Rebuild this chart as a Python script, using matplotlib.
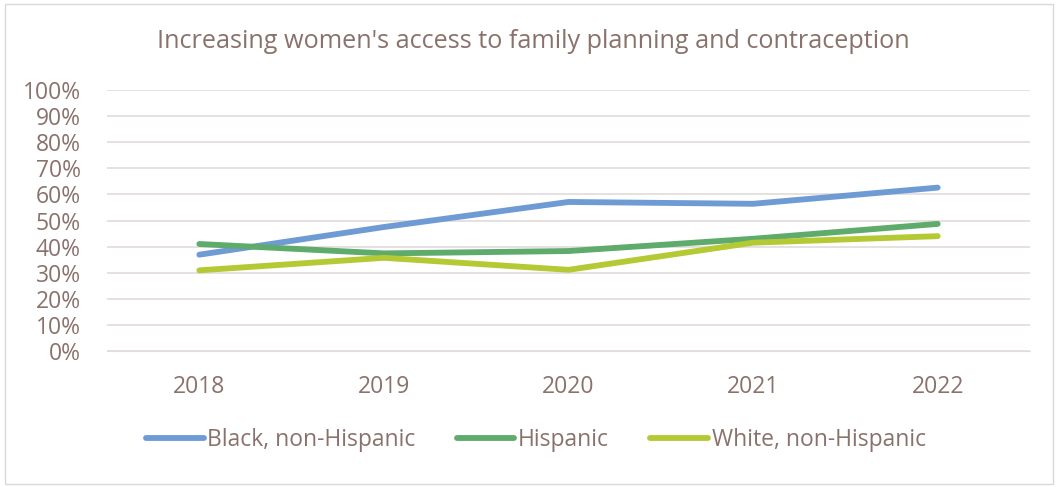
import matplotlib
matplotlib.use("Agg")
import matplotlib.pyplot as plt
from matplotlib.ticker import PercentFormatter
from matplotlib.patches import Rectangle

plt.rcParams['font.family'] = ['Open Sans', 'DejaVu Sans']

# survey years and share of women per group
years = ['2018', '2019', '2020', '2021', '2022']
black = [36.9, 47.5, 57.1, 56.4, 62.6]
hispanic = [41.0, 37.4, 38.3, 43.0, 48.7]
white = [30.9, 35.7, 31.1, 41.5, 44.0]

text_col = '#8a726c'
grid_col = '#e2dcda'

fig = plt.figure(figsize=(10.58, 4.87), dpi=100)
ax = fig.add_axes([107/1058, 1 - 351/487, (1030-107)/1058, (351-90)/487])

x = range(len(years))
ax.plot(x, black, color='#6f9bd4', lw=4.2, solid_capstyle='round', label='Black, non-Hispanic')
ax.plot(x, hispanic, color='#5eab6b', lw=4.2, solid_capstyle='round', label='Hispanic')
ax.plot(x, white, color='#b5c935', lw=4.2, solid_capstyle='round', label='White, non-Hispanic')

ax.set_xlim(-0.5, 4.5)
ax.set_ylim(0, 100)
ax.set_yticks(range(0, 101, 10))
ax.yaxis.set_major_formatter(PercentFormatter(decimals=0))
ax.set_xticks(list(x))
ax.set_xticklabels(years)
ax.grid(axis='y', color=grid_col, lw=1.2)
ax.set_axisbelow(True)
for s in ax.spines.values():
    s.set_visible(False)
ax.spines['bottom'].set_visible(True)
ax.spines['bottom'].set_color(grid_col)
ax.tick_params(axis='both', length=0, labelsize=16.5, labelcolor=text_col)
ax.tick_params(axis='y', pad=19)
ax.tick_params(axis='x', pad=17)

fig.text(533/1058, 1 - 42/487, "Increasing women's access to family planning and contraception",
         ha='center', va='center', fontsize=18.2, color=text_col)

leg = fig.legend(loc='center', bbox_to_anchor=(536/1058, 1 - 440/487), ncol=3, frameon=False,
                 fontsize=16.5, handlelength=2.5, handletextpad=0.17, columnspacing=1.8)
for t in leg.get_texts():
    t.set_color(text_col)

# chart border
fig.patches.append(Rectangle((5/1058, 3/487), 1048/1058, 480/487, transform=fig.transFigure,
                             fill=False, edgecolor='#d9d9d9', lw=1))

fig.savefig('out.png', dpi=100)
